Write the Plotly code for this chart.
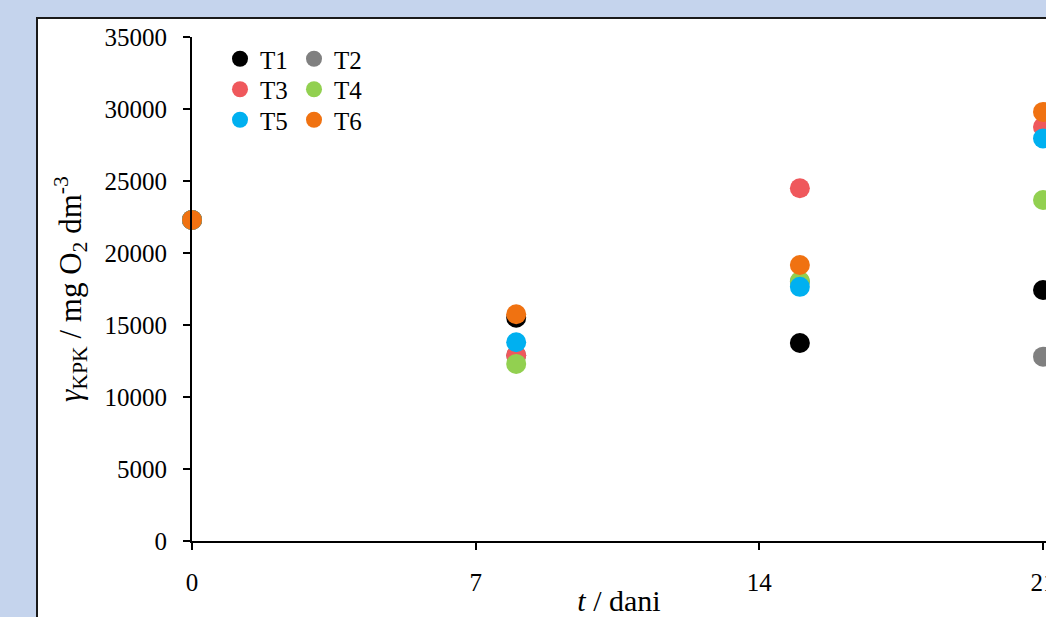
import plotly.graph_objects as go

days = [0, 8, 15, 21]
series_names = ["T1", "T2", "T3", "T4", "T5", "T6"]
T1 = [22300, 15500, 13750, 17430]
T2 = [22300, 12900, 18000, 12800]
T3 = [22300, 12900, 24500, 28750]
T4 = [22300, 12300, 18050, 23680]
T5 = [22300, 13800, 17650, 27950]
T6 = [22300, 15750, 19170, 29800]
values = [T1, T2, T3, T4, T5, T6]
colors = ["#000000", "#808080", "#EF585C", "#92D050", "#00B0F0", "#F07211"]
x_ticks = [0, 7, 14, 21]
y_ticks = [0, 5000, 10000, 15000, 20000, 25000, 30000, 35000]

FONT = "Liberation Serif, Times New Roman, serif"
W, H = 1046, 617
L, R, T, B = 192, 0, 37, 76
pw, ph = W - L - R, H - T - B

fig = go.Figure()
legend_layout = {}
for i, (name, vals, col) in enumerate(zip(series_names, values, colors)):
    lname = "legend" if i == 0 else f"legend{i + 1}"
    fig.add_trace(go.Scatter(
        x=days, y=vals, mode="markers", name=name,
        marker=dict(size=20, color=col, line=dict(width=0)),
        cliponaxis=False, legend=lname,
    ))
    row, colidx = i // 2, i % 2
    px_x = 220 + colidx * 74          # legend box left (pixels)
    px_y = 59 + row * 30.5            # legend entry centre (pixels)
    legend_layout[lname] = dict(
        x=(px_x - L) / pw, y=1 - (px_y - T) / ph,
        xanchor="left", yanchor="middle", orientation="v",
        font=dict(family=FONT, size=25, color="black"),
        bgcolor="rgba(0,0,0,0)", itemwidth=30, borderwidth=0,
    )

# white panel with dark border on light blue background
fig.add_shape(type="rect", xref="paper", yref="paper", layer="below",
              x0=(37 - L) / pw, x1=1.2, y0=-0.3, y1=1 + (T - 18) / ph,
              line=dict(color="#1a1a1a", width=2), fillcolor="white")

fig.update_layout(
    width=W, height=H, template="none",
    margin=dict(l=L, r=R, t=T, b=B),
    paper_bgcolor="#C5D4ED", plot_bgcolor="white",
    font=dict(family=FONT, size=24, color="black"),
    showlegend=True,
    xaxis=dict(range=[0, 21 * pw / (1043 - L)], tickvals=x_ticks, ticktext=[str(v) for v in x_ticks],
               showline=True, linecolor="black", linewidth=2, ticks="outside",
               ticklen=7, tickwidth=2, tickcolor="black", showgrid=False, zeroline=False,
               ticklabelstandoff=11, automargin=False, ticklabeloverflow="allow",
               tickfont=dict(family=FONT, size=25),
               title=dict(text="<i>t</i> / dani", font=dict(family=FONT, size=30), standoff=12)),
    yaxis=dict(range=[0, 35000], tickvals=y_ticks, ticktext=[str(v) for v in y_ticks],
               showline=True, linecolor="black", linewidth=2, ticks="outside",
               ticklen=7, tickwidth=2, tickcolor="black", showgrid=False, zeroline=False,
               ticklabelstandoff=11, automargin=False, ticklabeloverflow="allow",
               tickfont=dict(family=FONT, size=25),
               title=dict(text="<i>γ</i><sub>KPK</sub> / mg O<sub>2</sub> dm<sup>-3</sup>",
                          font=dict(family=FONT, size=31), standoff=14)),
    **legend_layout,
)

fig.write_html("out.html", config={"displayModeBar": False},
               post_script="document.body.style.margin='0';")
